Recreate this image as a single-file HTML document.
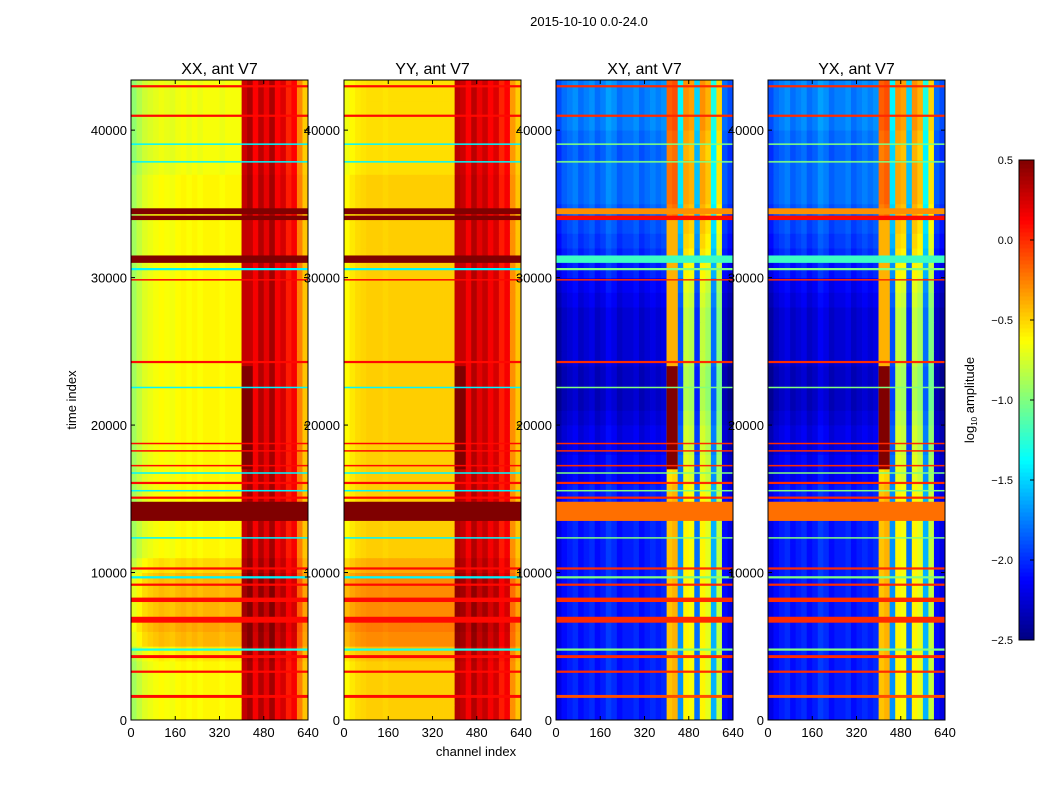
<!DOCTYPE html>
<html><head><meta charset="utf-8">
<style>
body{margin:0;background:#fff;}
svg{display:block;font-family:"Liberation Sans",sans-serif;}
</style></head>
<body>
<svg id="fig" width="1050" height="800" viewBox="0 0 1050 800">
<rect width="1050" height="800" fill="#fff"/>
<text x="589" y="26" font-size="13" text-anchor="middle">2015-10-10 0.0-24.0</text>
<text x="476" y="756" font-size="13" text-anchor="middle">channel index</text>
<text x="0" y="0" font-size="13" text-anchor="middle" transform="translate(76,400) rotate(-90)">time index</text>
<g id="panels"></g>
<g id="cbar"></g>
</svg>
<script>
// ---- data ----
const channelBins = [0,20,40,60,80,100,120,140,160,180,200,220,240,260,280,300,320,340,360,380,400,420,440,460,480,500,520,540,560,580,600,620,640];
const timeBinSize = 1000;
const timeMax = 43400;
const panelTitles = ["XX, ant V7","YY, ant V7","XY, ant V7","YX, ant V7"];
const xTicks = [0,160,320,480,640];
const yTicks = [0,10000,20000,30000,40000];
const cbarTicks = [0.5,0.0,-0.5,-1.0,-1.5,-2.0,-2.5];
// column profiles (log10 amplitude) per panel
const colXX = [-0.9,-0.8,-0.72,-0.68,-0.65,-0.62,-0.64,-0.66,-0.62,-0.6,-0.63,-0.6,-0.63,-0.6,-0.6,-0.6,-0.63,-0.6,-0.6,-0.6,0.3,0.4,0.15,0.35,0.2,0.4,0.15,0.25,0.05,0.15,-0.25,-0.45];
const colYY = [-0.62,-0.56,-0.52,-0.5,-0.48,-0.48,-0.48,-0.5,-0.48,-0.48,-0.48,-0.48,-0.48,-0.48,-0.48,-0.48,-0.48,-0.48,-0.48,-0.48,0.35,0.3,0.15,0.35,0.2,0.3,0.15,0.25,0.05,0.15,-0.3,-0.45];
const colXY = [-2.2,-2.1,-2.05,-2.0,-2.1,-2.05,-2.0,-2.1,-2.05,-1.95,-2.0,-2.1,-2.05,-2.05,-2.0,-2.1,-2.05,-2.0,-2.05,-2.0,-0.45,-0.4,-1.7,-0.6,-0.65,-1.8,-0.6,-0.7,-1.6,-0.8,-2.1,-2.2];
const colYX = [-2.2,-2.1,-2.05,-2.0,-2.1,-2.05,-2.0,-2.1,-2.05,-1.95,-2.0,-2.1,-2.05,-2.05,-2.0,-2.1,-2.05,-2.0,-2.05,-2.0,-0.45,-0.4,-1.7,-0.6,-0.65,-1.8,-0.6,-0.7,-1.6,-0.8,-2.1,-2.2];
// row offsets per 1000 time samples
const rowCo = [0,0,0,0,0.05,0.2,0.25,0.2,0.2,0.2,0.1,0,0,0,0,0,0,0,0,0,0,0,0,0,0,0,0,0,0,0,0,0,0,0,0,0,0,-0.05,-0.05,-0.05,-0.05,-0.05,-0.05,-0.05];
const rowCross = [0,0,0,0,0,0,0,0,0,0,0,0,0,0,0,0,-0.1,-0.1,-0.15,-0.15,-0.2,-0.25,-0.25,-0.25,-0.2,-0.2,-0.2,-0.2,-0.15,-0.1,0,0.05,0.1,0.15,0.2,0.25,0.25,0.25,0.2,0.25,0.3,0.3,0.3,0.3];
// localized patches: [chStart, chEnd, tStart, tEnd, valueCo, valueCross]
const patches = [[400,440,17000,24000,0.5,0.5],[400,440,24000,34000,0.3,-0.4]];
// horizontal stripes: [tStart, tEnd, valueCo, valueCross]
const stripes = [
 [1500,1700,0.1,-0.1],[3200,3350,0.1,0.0],[4200,4400,0.1,0.0],[4700,4850,-1.3,-1.0],
 [6600,7000,0.1,0.0],[8000,8300,0.1,0.0],[9100,9250,0.1,0.0],[9600,9750,-1.4,-1.0],[10200,10350,0.1,0.0],
 [12300,12400,-1.4,-1.0],[13500,14800,0.5,-0.2],[15000,15150,0.1,0.0],[15500,15600,-1.4,-1.0],
 [16000,16150,0.1,0.0],[16700,16800,-1.4,-1.0],[17200,17300,0.1,0.0],[18200,18300,0.1,0.0],
 [18700,18800,0.1,0.0],[22500,22600,-1.4,-1.0],[24200,24350,0.1,0.0],[29800,29900,0.1,0.0],
 [30500,30650,-1.4,-1.0],[31000,31500,0.5,-1.2],[33900,34200,0.5,0.1],[34300,34700,0.5,-0.3],
 [37800,37900,-1.4,-1.0],[39000,39100,-1.4,-1.0],[40900,41050,0.1,0.0],[42900,43050,0.1,0.0]
];
// ---- layout ----
const panelX = [131,344,556,768];
const panelW = 177, plotTop = 80, plotBottom = 720;
const vmin = -2.5, vmax = 0.5;
function jet(v){
  let t = Math.max(0, Math.min(1, (v - vmin) / (vmax - vmin)));
  const c = x => Math.round(255 * Math.max(0, Math.min(1, 1.5 - Math.abs(4 * t - x))));
  return `rgb(${c(3)},${c(2)},${c(1)})`;
}
function yScale(t){ return plotBottom - (t / timeMax) * (plotBottom - plotTop); }
const NS = "http://www.w3.org/2000/svg";
function el(tag, attrs, parent){ const e = document.createElementNS(NS, tag); for (const k in attrs) e.setAttribute(k, attrs[k]); parent.appendChild(e); return e; }
const panelsG = document.getElementById('panels');
const cols = [colXX, colYY, colXY, colYX];
for (let p = 0; p < 4; p++){
  const x0 = panelX[p];
  const xScale = ch => x0 + ch / 640 * panelW;
  const cross = p >= 2;
  const rows = cross ? rowCross : rowCo;
  const g = el('g', {}, panelsG);
  
  
  const hm = el('g', {}, g);
  
  
  const nRows = Math.ceil(timeMax / timeBinSize);
  for (let r = 0; r < nRows; r++){
    const t0 = r * timeBinSize, t1 = Math.min(timeMax, t0 + timeBinSize);
    for (let c = 0; c < cols[p].length; c++){
      let v = cols[p][c] + (cross || c < 20 ? rows[r] : rows[r] * 0.5);
      const xa = xScale(channelBins[c]), xb = xScale(channelBins[c + 1]);
      const cell = el('rect', {x: xa, y: yScale(t1), width: xb - xa + 0.4, height: yScale(t0) - yScale(t1) + 0.4, fill: jet(v)}, hm);
      
      
    }
  }
  for (const pa of patches){
    const v = cross ? pa[5] : pa[4];
    const r = el('rect', {x: xScale(pa[0]), y: yScale(pa[3]), width: xScale(pa[1]) - xScale(pa[0]), height: yScale(pa[2]) - yScale(pa[3]), fill: jet(v)}, hm);
    
    
  }
  for (const s of stripes){
    const v = cross ? s[3] : s[2];
    const h = Math.max(1.5, yScale(s[0]) - yScale(s[1]));
    const r = el('rect', {x: x0, y: yScale(s[1]), width: panelW, height: h, fill: jet(v)}, hm);
    
    
  }
  el('rect', {x: x0, y: plotTop, width: panelW, height: plotBottom - plotTop, fill: 'none', stroke: '#000', 'stroke-width': 1}, g);
  const title = el('text', {x: x0 + panelW / 2, y: 74, 'font-size': 16, 'text-anchor': 'middle'}, g);
  title.textContent = panelTitles[p];
  
  
  for (const xt of xTicks){
    const x = xScale(xt);
    el('line', {x1: x, x2: x, y1: plotBottom, y2: plotBottom - 4, stroke: '#000'}, g);
    el('line', {x1: x, x2: x, y1: plotTop, y2: plotTop + 4, stroke: '#000'}, g);
    const tl = el('text', {x: x, y: plotBottom + 17, 'font-size': 13, 'text-anchor': 'middle'}, g);
    tl.textContent = xt;
    
    
  }
  for (const yt of yTicks){
    const y = yScale(yt);
    el('line', {x1: x0, x2: x0 + 4, y1: y, y2: y, stroke: '#000'}, g);
    el('line', {x1: x0 + panelW, x2: x0 + panelW - 4, y1: y, y2: y, stroke: '#000'}, g);
    const tl = el('text', {x: x0 - 4, y: y + 5, 'font-size': 13, 'text-anchor': 'end'}, g);
    tl.textContent = yt;
    
    
  }
}
// colorbar
const cb = document.getElementById('cbar');
const cbX = 1019, cbW = 15, cbTop = 160, cbBot = 640;
const cbY = v => cbBot - (v - vmin) / (vmax - vmin) * (cbBot - cbTop);
for (let i = 0; i < 120; i++){
  const v0 = vmin + (vmax - vmin) * i / 120, v1 = vmin + (vmax - vmin) * (i + 1) / 120;
  el('rect', {x: cbX, y: cbY(v1), width: cbW, height: cbY(v0) - cbY(v1) + 0.5, fill: jet((v0 + v1) / 2)}, cb);
}
el('rect', {x: cbX, y: cbTop, width: cbW, height: cbBot - cbTop, fill: 'none', stroke: '#000'}, cb);
for (const t of cbarTicks){
  const y = cbY(t);
  el('line', {x1: cbX + cbW, x2: cbX + cbW - 4, y1: y, y2: y, stroke: '#000'}, cb);
  const tl = el('text', {x: cbX - 6, y: y + 4, 'font-size': 11, 'text-anchor': 'end'}, cb);
  tl.textContent = t.toFixed(1).replace('-', '\u2212');
  
  
}
const cbl = el('text', {x: 0, y: 0, 'font-size': 13, 'text-anchor': 'middle', transform: 'translate(974,400) rotate(-90)'}, cb);
cbl.innerHTML = 'log<tspan font-size="8" dy="3">10</tspan><tspan dy="-3"> amplitude</tspan>';


</script>
</body></html>
